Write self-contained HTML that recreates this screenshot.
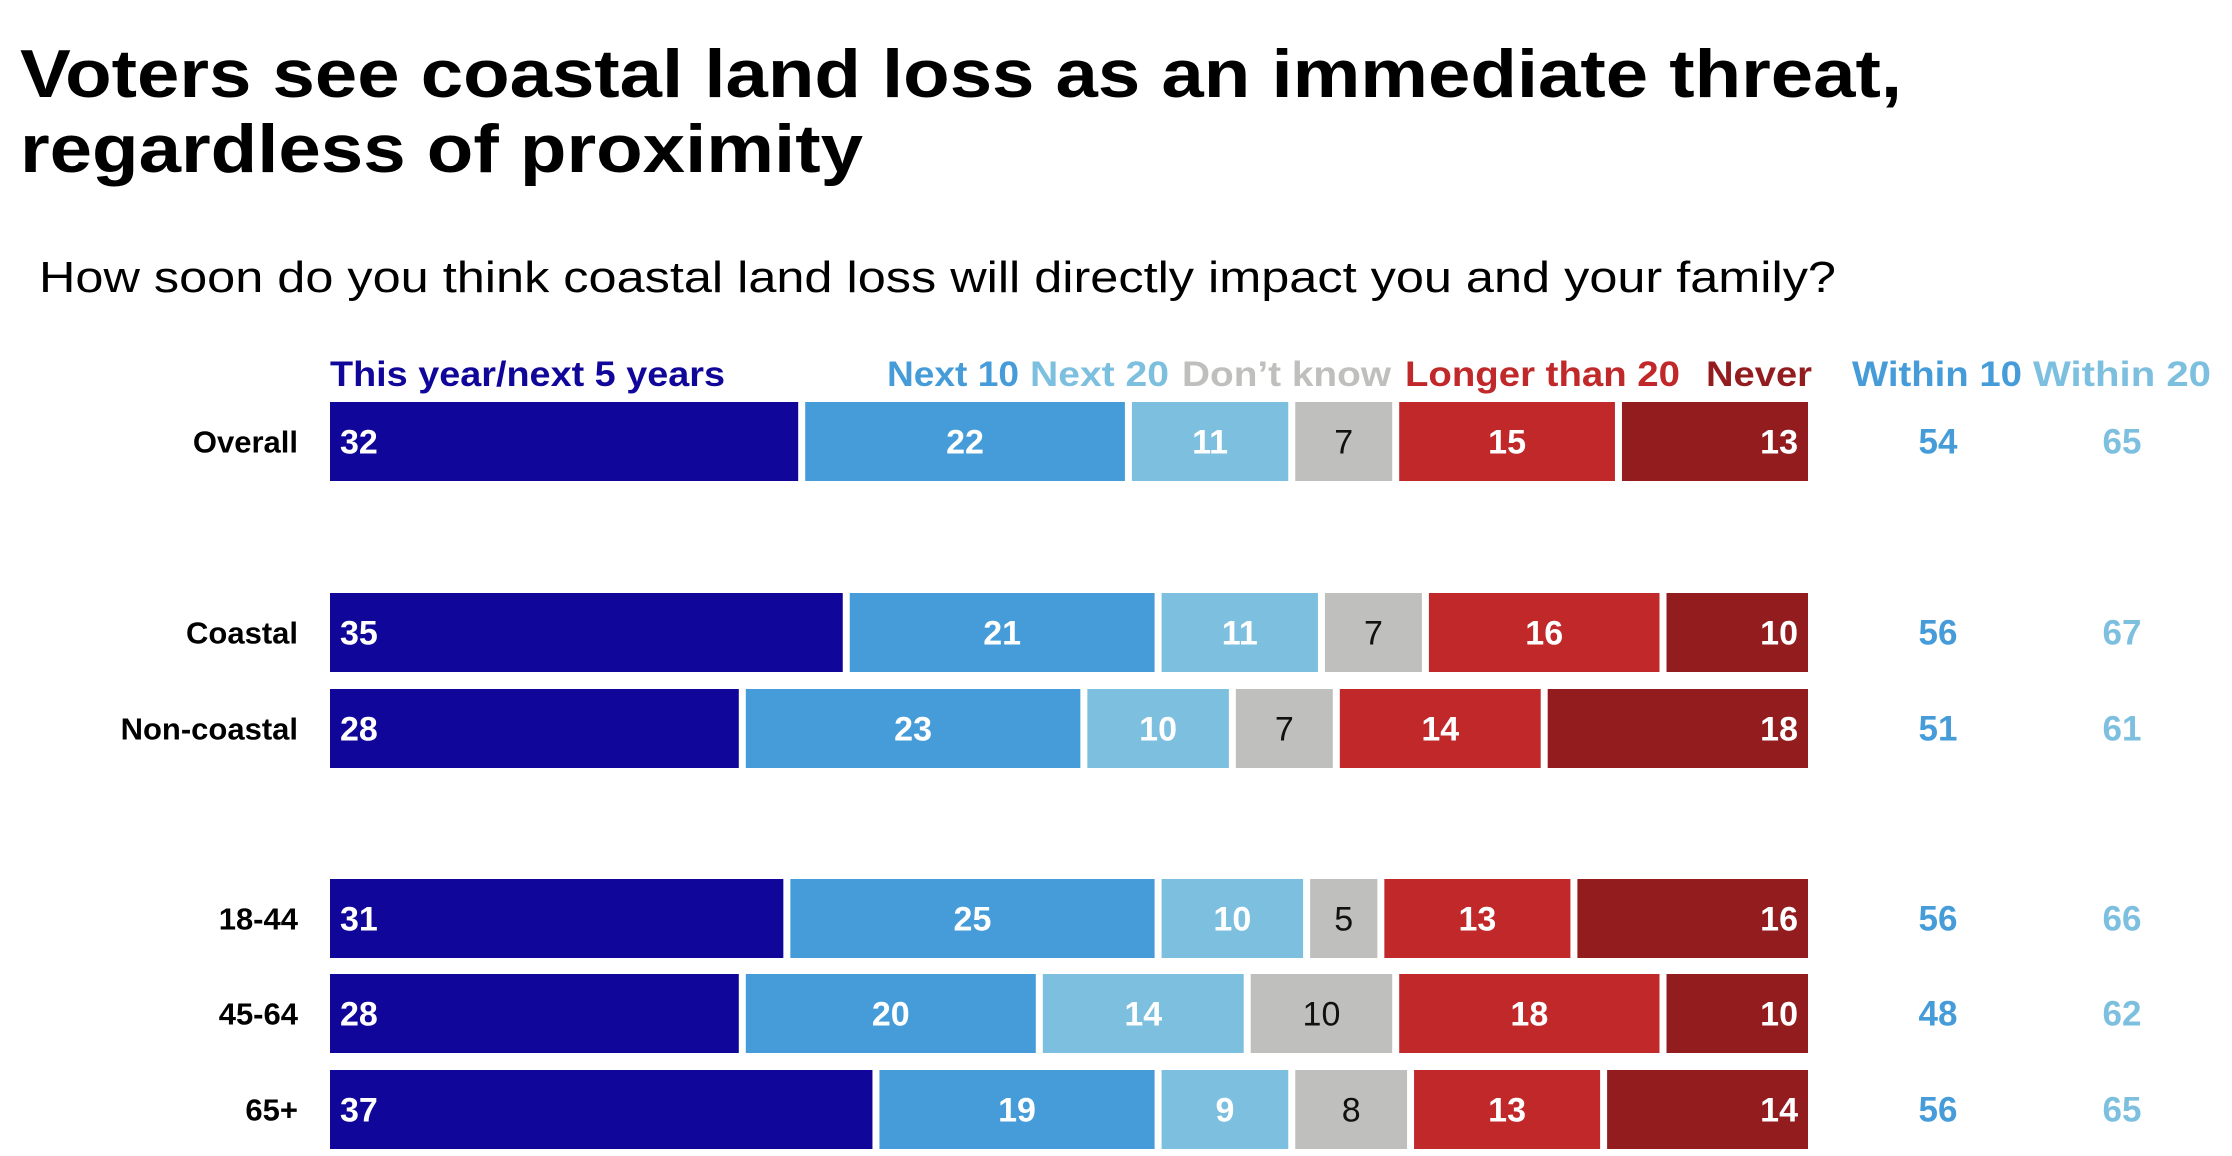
<!DOCTYPE html>
<html><head><meta charset="utf-8"><style>
html,body{margin:0;padding:0;background:#fff;}
svg{display:block;font-family:"Liberation Sans",sans-serif;}
</style></head><body>
<svg id="chart" width="2232" height="1156" viewBox="0 0 2232 1156" xmlns="http://www.w3.org/2000/svg">
<text x="20" y="97" font-size="68" font-weight="bold" fill="#000" textLength="1882" lengthAdjust="spacingAndGlyphs">Voters see coastal land loss as an immediate threat,</text>
<text x="20" y="172" font-size="68" font-weight="bold" fill="#000" textLength="843" lengthAdjust="spacingAndGlyphs">regardless of proximity</text>
<text x="39" y="292" font-size="44" fill="#000" textLength="1797" lengthAdjust="spacingAndGlyphs">How soon do you think coastal land loss will directly impact you and your family?</text>
<g id="legend"></g>
<g id="bars"></g>
</svg>
<script>
const categories = ["Overall","Coastal","Non-coastal","18-44","45-64","65+"];
const seriesNames = ["This year/next 5 years","Next 10","Next 20","Don\u2019t know","Longer than 20","Never"];
const s5 = [32,35,28,31,28,37];
const s10 = [22,21,23,25,20,19];
const s20 = [11,11,10,10,14,9];
const sDK = [7,7,7,5,10,8];
const sLonger = [15,16,14,13,18,13];
const sNever = [13,10,18,16,10,14];
const within10 = [54,56,51,56,48,56];
const within20 = [65,67,61,66,62,65];

const colors = ["#10069A","#459CD8","#7DBFDF","#BFBFBE","#C0282A","#931C1F"];
const textColors = ["#fff","#fff","#fff","#111","#fff","#fff"];
const legendX = [330,887,1030,1182,1405,1706];
const legendW = [395,132,139,209,275,106];
const rowY = [402,593,689,879,974,1070];
const NS = "http://www.w3.org/2000/svg";
const X0 = 330, X1 = 1808, BH = 79, GAP = 7;
function mk(tag, attrs, parent){const e=document.createElementNS(NS,tag);for(const k in attrs)e.setAttribute(k,attrs[k]);parent.appendChild(e);return e;}
const legend = document.getElementById('legend');
seriesNames.forEach((n,i)=>{
  const t = mk('text',{x:legendX[i],y:386,'font-size':35,'font-weight':'bold',fill:colors[i],textLength:legendW[i],lengthAdjust:'spacingAndGlyphs'},legend);
  
  
  t.textContent=n;
});
[["Within 10",1852,170,"#459CD8"],["Within 20",2033,178,"#7DBFDF"]].forEach(([n,x,w,c])=>{
  const t = mk('text',{x:x,y:386,'font-size':35,'font-weight':'bold',fill:c,textLength:w,lengthAdjust:'spacingAndGlyphs'},legend);
  
  
  t.textContent=n;
});
const bars = document.getElementById('bars');
const series = [s5,s10,s20,sDK,sLonger,sNever];
categories.forEach((cat,r)=>{
  const y = rowY[r];
  const lab = mk('text',{x:298,y:y+BH/2+11,'font-size':31,'font-weight':'bold','text-anchor':'end',fill:'#000'},bars);
  
  
  lab.textContent = cat;
  const total = series.reduce((a,s)=>a+s[r],0);
  const sx = v => X0 + v/total*(X1-X0+GAP);
  let cum = 0;
  series.forEach((s,i)=>{
    const v = s[r];
    const x = sx(cum), w = sx(cum+v)-x-GAP;
    const rect = mk('rect',{x:x,y:y,width:w,height:BH,fill:colors[i]},bars);
    
    
    let tx, anchor;
    if(i===0){tx=x+10;anchor='start';}
    else if(i===series.length-1){tx=x+w-10;anchor='end';}
    else {tx=x+w/2;anchor='middle';}
    const t = mk('text',{x:tx,y:y+BH/2+12,'font-size':34,'font-weight':i===3?'normal':'bold','text-anchor':anchor,fill:textColors[i]},bars);
    
    
    t.textContent = v;
    cum += v;
  });
  const w1 = mk('text',{x:1938,y:y+BH/2+12,'font-size':35,'font-weight':'bold','text-anchor':'middle',fill:'#459CD8'},bars);
  
  
  w1.textContent = within10[r];
  const w2 = mk('text',{x:2122,y:y+BH/2+12,'font-size':35,'font-weight':'bold','text-anchor':'middle',fill:'#7DBFDF'},bars);
  
  
  w2.textContent = within20[r];
});
</script>
</body></html>
